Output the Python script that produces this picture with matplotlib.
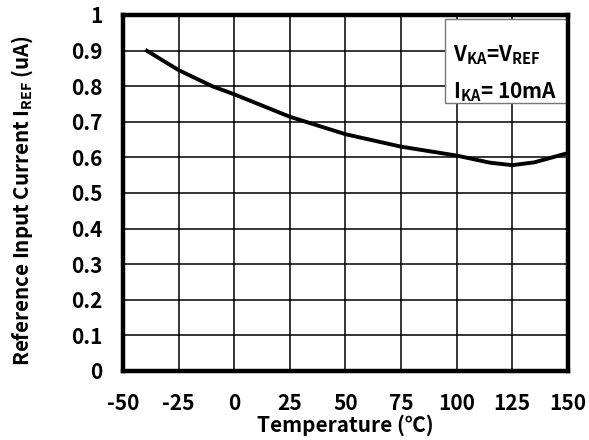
import numpy as np
import matplotlib
matplotlib.use('Agg')
import matplotlib.pyplot as plt
from matplotlib.patches import Rectangle

plt.rcParams['font.family'] = ['Noto Sans CJK JP', 'DejaVu Sans']
plt.rcParams['font.weight'] = 'bold'
plt.rcParams['mathtext.default'] = 'regular'
plt.rcParams['axes.unicode_minus'] = False

# data
temp = [-40, -25, -10, 0, 25, 50, 75, 100, 115, 125, 135, 150]
iref = [0.902, 0.845, 0.80, 0.777, 0.714, 0.665, 0.630, 0.605, 0.585, 0.578, 0.586, 0.612]

xticks = [-50, -25, 0, 25, 50, 75, 100, 125, 150]
yticks = [0, 0.1, 0.2, 0.3, 0.4, 0.5, 0.6, 0.7, 0.8, 0.9, 1]
ytick_labels = ['0', '0.1', '0.2', '0.3', '0.4', '0.5', '0.6', '0.7', '0.8', '0.9', '1']

fig, ax = plt.subplots(figsize=(5.89, 4.40), dpi=100)
fig.subplots_adjust(left=0.209, right=0.964, bottom=0.157, top=0.966)

ax.plot(temp, iref, color='black', lw=2.8, solid_capstyle='butt')

ax.set_xlim(-50, 150)
ax.set_ylim(0, 1)
ax.set_xticks(xticks)
ax.set_yticks(yticks)
ax.set_yticklabels(ytick_labels)
ax.tick_params(length=0, labelsize=15)
ax.tick_params(axis='x', pad=16)
ax.tick_params(axis='y', pad=15)
ax.grid(True, color='black', lw=1.1)
for s in ax.spines.values():
    s.set_linewidth(3.2)
    s.set_zorder(5)

ax.set_xlabel('Temperature (\u2103)', fontsize=15, fontweight='bold', va='center')
ax.xaxis.set_label_coords(0.5, -0.152)
ax.set_ylabel('Reference Input Current $I_{REF}$ (uA)', fontsize=14.8, fontweight='bold', va='center')
ax.yaxis.set_label_coords(-0.227, 0.48)

# annotation box in the top right corner
ax.add_patch(Rectangle((0.724, 0.753), 0.276, 0.236, transform=ax.transAxes,
                       fc='white', ec='#777777', lw=1, zorder=4))
ax.text(0.742, 0.888, '$V_{KA}$=$V_{REF}$', transform=ax.transAxes,
        ha='left', va='center', fontsize=15, fontweight='bold', zorder=6)
ax.text(0.742, 0.784, '$I_{KA}$= 10mA', transform=ax.transAxes,
        ha='left', va='center', fontsize=15, fontweight='bold', zorder=6)

fig.savefig('out.png', dpi=100)
